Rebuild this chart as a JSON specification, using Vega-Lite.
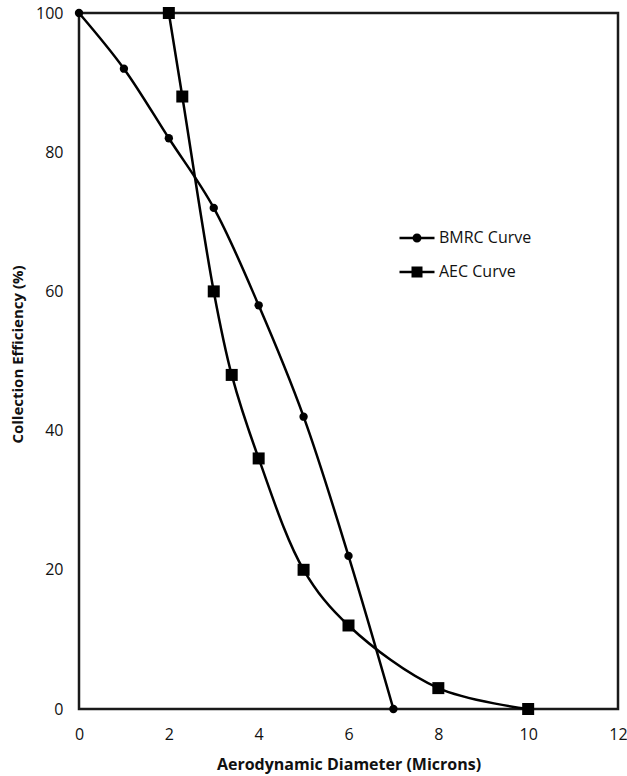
{
  "$schema": "https://vega.github.io/schema/vega-lite/v6.json",
  "width": 539,
  "height": 696,
  "autosize": "none",
  "padding": {"left": 79, "top": 13, "right": 9, "bottom": 67},
  "background": "white",
  "config": {
    "view": {"stroke": "#1a1a1a", "strokeWidth": 2.5},
    "font": "Open Sans"
  },
  "data": {
    "values": [
      {"series": "BMRC Curve", "x": 0, "y": 100},
      {"series": "BMRC Curve", "x": 1, "y": 92},
      {"series": "BMRC Curve", "x": 2, "y": 82},
      {"series": "BMRC Curve", "x": 3, "y": 72},
      {"series": "BMRC Curve", "x": 4, "y": 58},
      {"series": "BMRC Curve", "x": 5, "y": 42},
      {"series": "BMRC Curve", "x": 6, "y": 22},
      {"series": "BMRC Curve", "x": 7, "y": 0},
      {"series": "AEC Curve", "x": 2, "y": 100},
      {"series": "AEC Curve", "x": 2.3, "y": 88},
      {"series": "AEC Curve", "x": 3, "y": 60},
      {"series": "AEC Curve", "x": 3.4, "y": 48},
      {"series": "AEC Curve", "x": 4, "y": 36},
      {"series": "AEC Curve", "x": 5, "y": 20},
      {"series": "AEC Curve", "x": 6, "y": 12},
      {"series": "AEC Curve", "x": 8, "y": 3},
      {"series": "AEC Curve", "x": 10, "y": 0}
    ]
  },
  "encoding": {
    "x": {
      "field": "x", "type": "quantitative",
      "scale": {"domain": [0, 12], "nice": false, "zero": false},
      "axis": {
        "title": "Aerodynamic Diameter (Microns)",
        "values": [0, 2, 4, 6, 8, 10, 12],
        "grid": false, "ticks": false, "domain": false,
        "labelFont": "Open Sans", "labelFontSize": 16, "labelColor": "#111",
        "labelPadding": 17, "labelFlush": false,
        "titleFont": "Open Sans", "titleFontSize": 16, "titleFontWeight": "bold", "titleColor": "#111",
        "titleY": 55, "titleBaseline": "middle"
      }
    },
    "y": {
      "field": "y", "type": "quantitative",
      "scale": {"domain": [0, 100], "nice": false},
      "axis": {
        "title": "Collection Efficiency (%)",
        "values": [0, 20, 40, 60, 80, 100],
        "grid": false, "ticks": false, "domain": false,
        "labelFont": "Open Sans", "labelFontSize": 16, "labelColor": "#111",
        "labelPadding": 16,
        "titleFont": "Open Sans", "titleFontSize": 15, "titleFontWeight": "bold", "titleColor": "#111",
        "titleX": -62, "titleY": 341, "titleAngle": -90, "titleBaseline": "middle"
      }
    }
  },
  "layer": [
    {
      "mark": {"type": "line", "interpolate": "catmull-rom", "color": "black", "strokeWidth": 2.5},
      "encoding": {"detail": {"field": "series"}}
    },
    {
      "mark": {"type": "point", "filled": true, "color": "black", "opacity": 1},
      "encoding": {
        "shape": {
          "condition": {"test": "datum.series == 'AEC Curve'", "value": "square"},
          "value": "circle"
        },
        "size": {
          "condition": {"test": "datum.series == 'AEC Curve'", "value": 144},
          "value": 70
        }
      }
    },
    {
      "transform": [{"filter": "datum.x < -100"}],
      "mark": {"type": "point", "filled": true, "color": "black", "opacity": 1},
      "encoding": {
        "shape": {
          "field": "series", "type": "nominal",
          "scale": {
            "domain": ["BMRC Curve", "AEC Curve"],
            "range": [
              "M-1.75,-0.12H1.75V0.12H-1.75ZM-0.45,0A0.45,0.45,0,1,1,0.45,0A0.45,0.45,0,1,1,-0.45,0Z",
              "M-1.75,-0.12H1.75V0.12H-1.75ZM-0.55,-0.55H0.55V0.55H-0.55Z"
            ]
          },
          "legend": {
            "title": null,
            "orient": "none",
            "legendX": 328,
            "legendY": 215,
            "padding": 0,
            "rowPadding": 16,
            "symbolSize": 400,
            "symbolFillColor": "black",
            "symbolStrokeWidth": 0,
            "symbolOpacity": 1,
            "labelFont": "Open Sans",
            "labelFontSize": 16,
            "labelColor": "#111",
            "labelOffset": 12,
            "encode": {
              "symbols": {
                "update": {
                  "fill": {"value": "black"},
                  "opacity": {"value": 1}
                }
              }
            }
          }
        },
        "size": {"value": 400}
      }
    }
  ]
}
